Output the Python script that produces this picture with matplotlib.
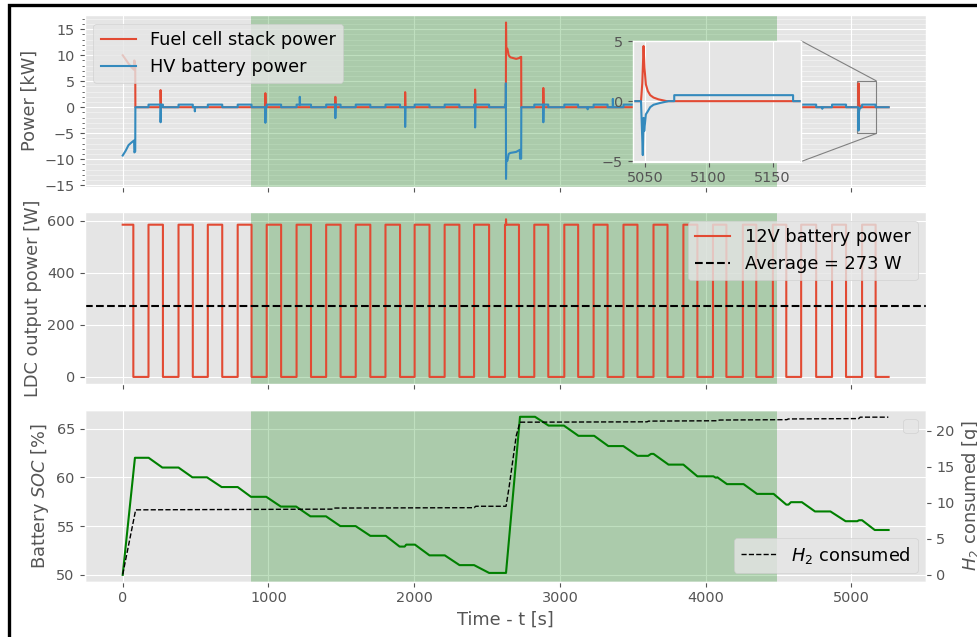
import matplotlib
matplotlib.use('Agg')
from matplotlib import pyplot as plt
from matplotlib.ticker import MultipleLocator
from matplotlib.patches import Rectangle
from mpl_toolkits.axes_grid1.inset_locator import mark_inset

plt.style.use('ggplot')
plt.rcParams['font.size'] = 10.4
plt.rcParams['axes.labelsize'] = 12.8

# LDC switching times [s]
ldc_rise = [0, 177, 383, 584, 789, 988, 1193, 1396, 1599, 1803, 2003, 2209, 2411,
            2623, 2824, 3030, 3231, 3436, 3642, 3847, 4050, 4255, 4461, 4655, 4867, 5073]
ldc_fall = [73, 276, 481, 683, 884, 1087, 1292, 1495, 1699, 1903, 2105, 2310, 2514,
            2719, 2920, 3125, 3327, 3532, 3738, 3943, 4142, 4347, 4553, 4758, 4963, 5166]
t_end = 5255
ldc_on_power = 585     # W
ldc_peak = (2630, 606)
ldc_average = 273      # W
hv_ldc_power = 0.5     # kW from HV battery while LDC is on
fc_window = (877, 4490)

# start-up with fuel cell running
start_t = [0, 20, 40, 60, 78, 80, 86, 87]
start_fc = [10.0, 9.2, 8.4, 7.7, 7.2, 9.0, 8.0, 0.0]
start_hv = [-9.3, -8.4, -7.3, -6.8, -6.4, -8.7, -8.5, 0.0]

# second fuel cell run
run_t = [2623, 2623, 2628.5, 2629, 2630, 2632, 2640, 2648, 2660, 2700, 2725, 2726, 2734, 2735]
run_fc = [0.0, 0.0, 0.0, 0.0, 16.3, 11.5, 11.2, 10.0, 9.6, 9.3, 9.5, 9.6, 9.7, 0.0]
run_hv = [0.0, 0.5, 0.5, 4.6, -13.8, -10.2, -10.3, -9.0, -8.8, -8.6, -8.2, -9.9, -9.9, 0.0]

# short fuel cell restarts
spike_t = [260, 979, 1459, 1938, 2418, 2886]
spike_fc = [3.3, 2.7, 2.0, 2.9, 3.4, 3.7]
spike_hv = [-2.9, -3.0, -2.1, -3.8, -3.9, -2.9]
blip_t = [495, 1215, 3190, 3363, 4800]
blip_hv = [-0.8, 2.0, -0.4, 1.6, -0.3]

# restart shown in the zoom
zoom_fc_t = [5047, 5048, 5049, 5049.7, 5050.8, 5052.3, 5054.2, 5056.8, 5060.7, 5067.2]
zoom_fc = [0.0, 1.5, 4.6, 2.8, 1.4, 0.85, 0.5, 0.3, 0.15, 0.0]
zoom_hv_t = [5047, 5047.7, 5048.4, 5049, 5049.5, 5050.8, 5052.3, 5054.2, 5056.8, 5062, 5068.5]
zoom_hv = [0.0, -2.25, -4.5, -1.4, -2.5, -1.1, -0.85, -0.5, -0.3, -0.15, 0.0]

# battery SOC [%]
soc_t = [0, 84, 178, 272, 383, 478, 578, 679, 789, 880, 985, 1085, 1190, 1288, 1395,
         1493, 1598, 1699, 1805, 1900, 1935, 1945, 2005, 2105, 2210, 2311, 2411, 2514,
         2630, 2726, 2829, 2922, 3027, 3127, 3235, 3332, 3435, 3532, 3605, 3625, 3642,
         3745, 3847, 3943, 4053, 4070, 4080, 4146, 4260, 4352, 4466, 4553, 4568, 4585,
         4660, 4750, 4856, 4960, 5040, 5052, 5073, 5160, 5255]
soc = [50, 62, 62, 61, 61, 60, 60, 59, 59, 58, 58, 57, 57, 56, 56,
       55, 55, 54, 54, 52.9, 52.9, 53.1, 53.1, 52, 52, 51, 51, 50.2,
       50.2, 66.2, 66.2, 65.3, 65.3, 64.25, 64.25, 63.2, 63.2, 62.2, 62.2, 62.4, 62.4,
       61.3, 61.3, 60.1, 60.1, 59.95, 60.0, 59.3, 59.3, 58.3, 58.3, 57.2, 57.2, 57.45,
       57.45, 56.5, 56.5, 55.5, 55.5, 55.6, 55.6, 54.6, 54.6]

# hydrogen consumed [g]
h2_t = [0, 89, 1440, 1450, 2412, 2422, 2630, 2650, 2700, 2726, 3598, 3608, 4084, 4094,
        4557, 4567, 5050, 5060, 5253]
h2 = [0, 9.0, 9.1, 9.25, 9.3, 9.5, 9.5, 12.0, 19.3, 21.2, 21.25, 21.35, 21.4, 21.5,
      21.55, 21.65, 21.7, 21.9, 21.9]


def hv_level(t):
    for r, f in zip(ldc_rise, ldc_fall):
        if r <= t < f:
            return hv_ldc_power
    return 0.0


fc_pts = list(zip(start_t, start_fc)) + list(zip(run_t, run_fc)) + list(zip(zoom_fc_t, zoom_fc))
for t, p in zip(spike_t, spike_fc):
    fc_pts += [(t - 0.5, 0.0), (t, p), (t + 2, 0.0)]
fc_pts.append((t_end, 0.0))
fc_pts.sort(key=lambda p: p[0])

hv_pts = list(zip(start_t, start_hv)) + list(zip(run_t, run_hv)) + list(zip(zoom_hv_t, zoom_hv))
for r, f in zip(ldc_rise[1:], ldc_fall[1:]):
    if r == run_t[0]:
        continue
    hv_pts += [(r, 0.0), (r, hv_ldc_power), (f, hv_ldc_power), (f, 0.0)]
for t, v in zip(spike_t + blip_t, spike_hv + blip_hv):
    b = hv_level(t)
    hv_pts += [(t - 0.5, b), (t, v), (t + 2, b)]
hv_pts.append((t_end, 0.0))
hv_pts.sort(key=lambda p: p[0])

ldc_pts = []
for i, (r, f) in enumerate(zip(ldc_rise, ldc_fall)):
    if i > 0:
        ldc_pts.append((r, 0))
    ldc_pts += [(r, ldc_on_power), (f, ldc_on_power), (f, 0)]
ldc_pts += [(ldc_peak[0] - 1, ldc_on_power), ldc_peak, (ldc_peak[0] + 2, ldc_on_power)]
ldc_pts.append((t_end, 0))
ldc_pts.sort(key=lambda p: p[0])

fc_x, fc_y = zip(*fc_pts)
hv_x, hv_y = zip(*hv_pts)
ldc_x, ldc_y = zip(*ldc_pts)

red = '#E24A33'
blue = '#348ABD'
leg_size = 12.8

fig, (ax1, ax2, ax3) = plt.subplots(3, 1, sharex=True, figsize=(9.77, 6.37), dpi=100)
fig.subplots_adjust(left=0.0865, right=0.9483, top=0.9765, bottom=0.0868, hspace=0.15)

# --- power
ax1.axvspan(*fc_window, color='g', alpha=0.25, lw=0)
ax1.plot(fc_x, fc_y, color=red, lw=1.5, label='Fuel cell stack power')
ax1.plot(hv_x, hv_y, color=blue, lw=1.5, label='HV battery power')
ax1.set_ylim(-15.3, 17.75)
ax1.set_yticks([-15, -10, -5, 0, 5, 10, 15])
ax1.yaxis.set_minor_locator(MultipleLocator(1))
ax1.grid(which='minor', axis='y', color='white', lw=0.5, alpha=0.6)
ax1.set_ylabel('Power [kW]')
ax1.legend(loc='upper left', fontsize=leg_size)

axins = fig.add_axes([0.6476, 0.7462, 0.172, 0.19])
axins.plot(fc_x, fc_y, color=red, lw=1.5)
axins.plot(hv_x, hv_y, color=blue, lw=1.5)
axins.set_xlim(5040.5, 5172)
axins.set_ylim(-5.05, 5.05)
axins.set_xticks([5050, 5100, 5150])
axins.set_yticks([-5, 0, 5])
mark_inset(ax1, axins, loc1=1, loc2=4, fc='none', ec='0.5', lw=0.8)

# --- LDC
ax2.axvspan(*fc_window, color='g', alpha=0.25, lw=0)
ax2.plot(ldc_x, ldc_y, color=red, lw=1.5, label='12V battery power')
ax2.axhline(ldc_average, color='black', ls='--', lw=1.5,
            label='Average = %d W' % ldc_average)
ax2.set_ylim(-28, 632)
ax2.set_yticks([0, 200, 400, 600])
ax2.set_ylabel('LDC output power [W]')
ax2.legend(loc='upper right', fontsize=leg_size)

# --- SOC and H2
ax3.axvspan(*fc_window, color='g', alpha=0.25, lw=0)
ax3.plot(soc_t, soc, color='g', lw=1.5)
ax3.set_ylim(49.3, 66.9)
ax3.set_yticks([50, 55, 60, 65])
ax3.set_ylabel(r'Battery $SOC$ [%]')
ax3.set_xlabel('Time - t [s]')
ax3.legend(handles=[], loc='upper right', fontsize=leg_size)

ax3b = ax3.twinx()
ax3b.grid(False)
ax3b.plot(h2_t, h2, color='black', ls='--', lw=1, label='$H_2$ consumed')
ax3b.set_ylim(-1.0, 22.9)
ax3b.set_yticks([0, 5, 10, 15, 20])
ax3b.set_ylabel('$H_2$ consumed [g]')
ax3b.legend(loc='lower right', fontsize=leg_size)

ax1.set_xlim(-262, 5515)
ax1.set_xticks([0, 1000, 2000, 3000, 4000, 5000])

fig.patches.append(Rectangle((9 / 977, -0.1), 1.2, 1.1 - 5 / 637, transform=fig.transFigure,
                             fill=False, ec='black', lw=2.4))

plt.savefig('out.png')
